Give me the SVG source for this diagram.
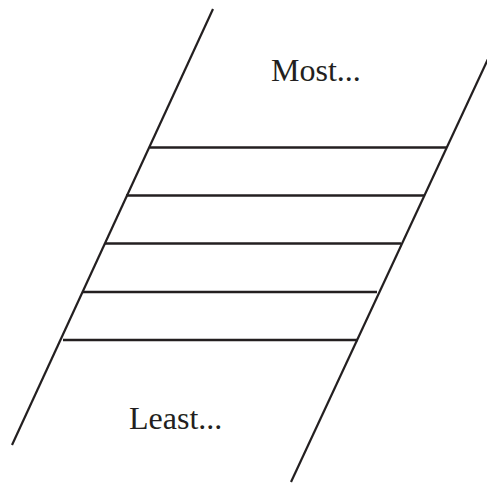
<svg xmlns="http://www.w3.org/2000/svg" width="487" height="483" viewBox="0 0 487 483">
<style>
.ln{stroke:#231f20;stroke-width:2.2;fill:none;stroke-linecap:butt}
.rg{stroke:#231f20;stroke-width:2.3;fill:none}
.t{font-family:"Liberation Serif","Times New Roman",serif;font-size:32px;fill:#231f20}
</style>
<rect width="487" height="483" fill="#ffffff"/>
<g id="connectors">
<line class="ln" x1="213" y1="9" x2="12" y2="445"/>
<line class="ln" x1="494.5" y1="45" x2="291" y2="482"/>
<line class="rg" x1="150" y1="147.5" x2="447" y2="147.5"/>
<line class="rg" x1="126" y1="195.5" x2="424" y2="195.5"/>
<line class="rg" x1="105" y1="243.5" x2="401" y2="243.5"/>
<line class="rg" x1="83" y1="292" x2="377" y2="292"/>
<line class="rg" x1="63" y1="340" x2="358" y2="340"/>
</g>
<g id="most"><text class="t" x="271" y="81">Most...</text></g>
<g id="least"><text class="t" x="129" y="429">Least...</text></g>
</svg>
